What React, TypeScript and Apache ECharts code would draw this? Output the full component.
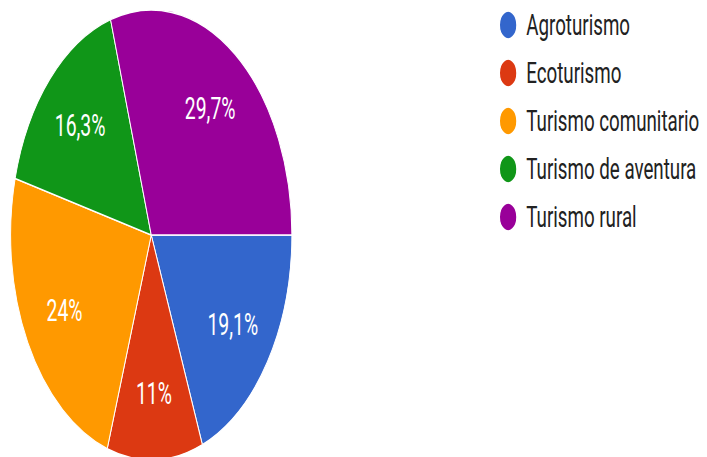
import React, { useEffect, useRef } from "react";
import * as echarts from "echarts";

const categories = ["Agroturismo", "Ecoturismo", "Turismo comunitario", "Turismo de aventura", "Turismo rural"];
const values = [19.1, 11, 24, 16.3, 29.7];
const labels = ["19,1%", "11%", "24%", "16,3%", "29,7%"];
const colors = ["#3366cc", "#dc3912", "#ff9900", "#109618", "#990099"];

const SX = 0.625;
const W = 707 / SX;

export default function App() {
  const ref = useRef<HTMLDivElement>(null);
  useEffect(() => {
    if (!ref.current) return;
    const chart = echarts.init(ref.current, null, { renderer: "svg" });
    const data = categories.map((name, i) => ({ name, value: values[i], itemStyle: { color: colors[i] } }));
    const labelData = categories.map((name, i) => ({ name, value: values[i] }));
    chart.setOption({
      animation: false,
      legend: {
        orient: "vertical",
        left: 793,
        top: 5,
        icon: "circle",
        itemWidth: 28,
        itemHeight: 28,
        itemGap: 18,
        data: categories,
        textStyle: {
          fontFamily: "Roboto",
          fontSize: 30,
          color: "#222222",
          lineHeight: 28,
          padding: [0, 0, 0, 10],
        },
      },
      series: [
        {
          type: "pie",
          center: [242, 235],
          radius: [0, 225],
          startAngle: 0,
          clockwise: true,
          data,
          label: { show: false },
          labelLine: { show: false },
          itemStyle: { borderColor: "#ffffff", borderWidth: 1.5 },
          emphasis: { disabled: true },
        },
        {
          type: "pie",
          center: [242, 235],
          radius: [85, 225],
          startAngle: 0,
          clockwise: true,
          silent: true,
          data: labelData,
          itemStyle: { color: "rgba(0,0,0,0)" },
          label: {
            show: true,
            position: "inside",
            fontFamily: "Roboto",
            fontSize: 31,
            color: "#ffffff",
            formatter: (p: any) => labels[p.dataIndex],
          },
          labelLine: { show: false },
          emphasis: { disabled: true },
        },
      ],
    });
    return () => chart.dispose();
  }, []);
  return (
    <div style={{ position: "absolute", left: 0, top: 0, width: 707, height: 457, overflow: "hidden", background: "#fff" }}>
      <div
        ref={ref}
        style={{ width: W, height: 457, transform: `scaleX(${SX})`, transformOrigin: "0 0" }}
      />
    </div>
  );
}
